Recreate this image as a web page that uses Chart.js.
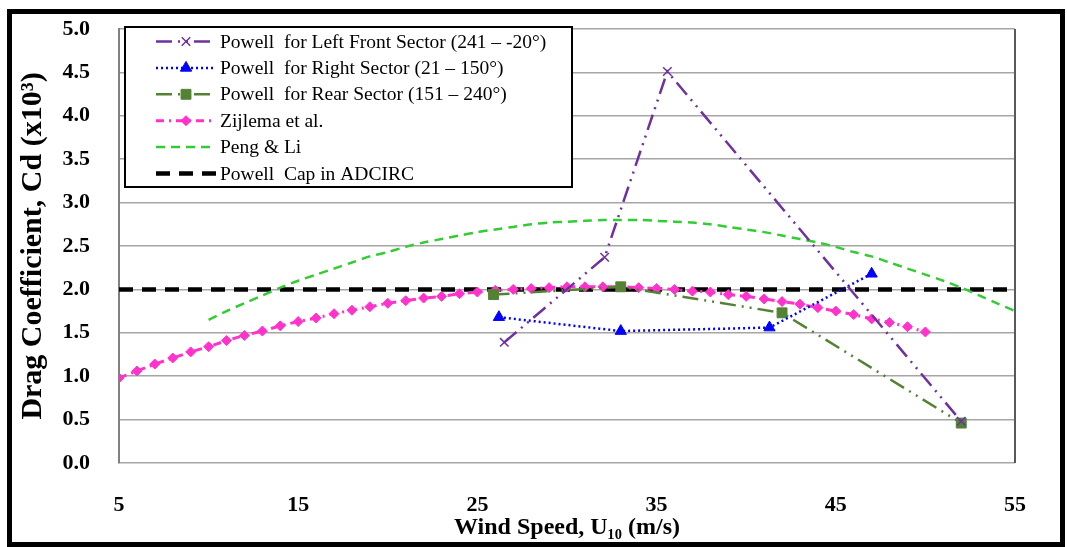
<!DOCTYPE html>
<html>
<head>
<meta charset="utf-8">
<script src="https://cdn.jsdelivr.net/npm/chart.js@4.4.1/dist/chart.umd.min.js"></script>
<style>
  html,body{margin:0;padding:0;background:#fff;}
  #wrap{width:1067px;height:547px;position:relative;}
</style>
</head>
<body>
<div id="wrap"><canvas id="c" width="1067" height="547"></canvas></div>
<script>
// axis ticks
const xTicks=[5,15,25,35,45,55];

// Powell sectors
const leftFrontU=[26.5,32.1,35.6,52.0];
const leftFrontCd=[1.39,2.37,4.51,0.48];
const rightU=[26.2,33.0,41.3,47.0];
const rightCd=[1.68,1.52,1.56,2.18];
const rearU=[25.9,33.0,42.0,52.0];
const rearCd=[1.94,2.03,1.73,0.46];

// Zijlema et al. 5..50 m/s
const zijU=[5,6,7,8,9,10,11,12,13,14,15,16,17,18,19,20,21,22,23,24,25,26,27,28,29,30,31,32,33,34,35,36,37,38,39,40,41,42,43,44,45,46,47,48,49,50];
const zijCd=[0.98,1.06,1.14,1.21,1.28,1.34,1.41,1.47,1.52,1.58,1.63,1.67,1.72,1.76,1.80,1.84,1.87,1.90,1.92,1.95,1.97,1.99,2.00,2.01,2.02,2.03,2.03,2.03,2.03,2.02,2.01,2.00,1.98,1.97,1.94,1.92,1.89,1.86,1.83,1.79,1.75,1.71,1.66,1.62,1.57,1.51];

// Peng & Li 10..55 m/s
const pengU=[10,11,12,13,14,15,16,17,18,19,20,21,22,23,24,25,26,27,28,29,30,31,32,33,34,35,36,37,38,39,40,41,42,43,44,45,46,47,48,49,50,51,52,53,54,55];
const pengCd=[1.65,1.75,1.84,1.93,2.02,2.10,2.17,2.24,2.31,2.38,2.43,2.49,2.54,2.58,2.62,2.66,2.69,2.72,2.75,2.77,2.78,2.79,2.80,2.80,2.80,2.79,2.78,2.77,2.75,2.72,2.69,2.66,2.62,2.58,2.54,2.49,2.43,2.38,2.31,2.24,2.17,2.10,2.02,1.93,1.84,1.75];

// Powell cap in ADCIRC
const capU=[5,55];
const capCd=[2.0,2.0];

const pts=(xs,ys)=>xs.map((v,i)=>({x:v,y:ys[i]}));
const SERIF='"Liberation Serif","Times New Roman",serif';

const datasets=[
  {label:"Powell  for Left Front Sector (241 \u2013 -20\u00b0)",data:pts(leftFrontU,leftFrontCd),
   borderColor:"#7030A0",backgroundColor:"#7030A0",borderWidth:2.5,borderDash:[16,6,2,6,2,6],
   pointStyle:"crossRot",pointRadius:6,pointBorderWidth:1.5},
  {label:"Powell  for Right Sector (21 \u2013 150\u00b0)",data:pts(rightU,rightCd),
   borderColor:"#0000FF",backgroundColor:"#0000FF",borderWidth:2.5,borderDash:[2,3],
   pointStyle:"triangle",pointRadius:6.5,pointBorderWidth:1},
  {label:"Powell  for Rear Sector (151 \u2013 240\u00b0)",data:pts(rearU,rearCd),
   borderColor:"#548235",backgroundColor:"#548235",borderWidth:2.5,borderDash:[16,6,2,6,2,6],
   pointStyle:"rect",pointRadius:7,pointBorderWidth:1},
  {label:"Zijlema et al.",data:pts(zijU,zijCd),
   borderColor:"#FF33CC",backgroundColor:"#FF33CC",borderWidth:3,borderDash:[8,5,2,5],
   pointStyle:"rectRot",pointRadius:5,pointBorderWidth:1},
  {label:"Peng & Li",data:pts(pengU,pengCd),
   borderColor:"#33CC33",backgroundColor:"#33CC33",borderWidth:2.5,borderDash:[9,6],
   pointRadius:0,tension:0.3},
  {label:"Powell  Cap in ADCIRC",data:pts(capU,capCd),
   borderColor:"#000000",backgroundColor:"#000000",borderWidth:4.5,borderDash:[14,9],
   pointRadius:0}
];
datasets.forEach(d=>{d.showLine=true;d.pointBorderColor=d.borderColor;d.pointBackgroundColor=d.borderColor;d.pointHoverRadius=d.pointRadius;});

// legend box + frames drawn on the canvas
const decor={
  id:"decor",
  afterDatasetsDraw(chart){
    const {ctx,chartArea:a}=chart;
    ctx.save();
    ctx.strokeStyle="#595959";ctx.lineWidth=2;
    ctx.beginPath();ctx.moveTo(a.right,a.top);ctx.lineTo(a.right,a.bottom);ctx.stroke();
    ctx.restore();
  },
  afterDraw(chart){
    const ctx=chart.ctx;
    ctx.save();
    // legend
    const bx=125,by=27,bw=447,bh=160;
    ctx.fillStyle="#fff";ctx.fillRect(bx,by,bw,bh);
    ctx.strokeStyle="#000";ctx.lineWidth=2;ctx.strokeRect(bx,by,bw,bh);
    chart.data.datasets.forEach((d,i)=>{
      const y=41.5+i*26.4;
      ctx.strokeStyle=d.borderColor;ctx.lineWidth=d.borderWidth;
      ctx.setLineDash(d.borderDash||[]);
      ctx.beginPath();ctx.moveTo(156,y);ctx.lineTo(216,y);ctx.stroke();
      ctx.setLineDash([]);
      if(d.pointRadius>0){
        ctx.fillStyle=d.borderColor;ctx.strokeStyle=d.borderColor;ctx.lineWidth=d.pointBorderWidth;
        Chart.helpers.drawPoint(ctx,{pointStyle:d.pointStyle,radius:d.pointRadius,rotation:0,borderWidth:d.pointBorderWidth},186,y);
      }
      ctx.fillStyle="#000";ctx.font='19.5px '+SERIF;ctx.textBaseline="middle";ctx.textAlign="left";
      ctx.fillText(d.label,220,y+1);
    });
    // outer frame
    ctx.strokeStyle="#000";ctx.lineWidth=5;
    ctx.strokeRect(9.5,11.5,1053,533);
    ctx.restore();
  }
};

new Chart(document.getElementById("c"),{
  type:"scatter",
  data:{datasets},
  options:{
    responsive:false,animation:false,
    layout:{padding:{top:29,right:52,bottom:0,left:0}},
    plugins:{legend:{display:false},tooltip:{enabled:false}},
    elements:{line:{fill:false}},
    scales:{
      x:{type:"linear",min:5,max:55,
        afterFit(s){s.height=84;},
        afterBuildTicks(s){s.ticks=xTicks.map(v=>({value:v}));},
        grid:{display:false,drawTicks:false},
        border:{display:false},
        ticks:{padding:29,color:"#000",font:{family:SERIF,size:22,weight:"bold"}},
        title:{display:true,text:"Wind Speed, U\u2081\u2080 (m/s)",color:"#000",
          font:{family:SERIF,size:24,weight:"bold"},padding:{top:0,bottom:5}}
      },
      y:{min:0,max:5,
        afterFit(s){s.width=119;s.paddingTop=0;s.paddingBottom=0;},
        grid:{color:"#a6a6a6",lineWidth:1.5,drawTicks:false},
        border:{display:true,color:"#808080",width:2},
        ticks:{stepSize:0.5,padding:29,color:"#000",font:{family:SERIF,size:22,weight:"bold"},
          callback:v=>v.toFixed(1)},
        title:{display:true,text:"Drag Coefficient, Cd (x10\u00b3)",color:"#000",
          font:{family:SERIF,size:30,weight:"bold"},padding:{top:15,bottom:0}}
      }
    }
  },
  plugins:[decor]
});
</script>
</body>
</html>
